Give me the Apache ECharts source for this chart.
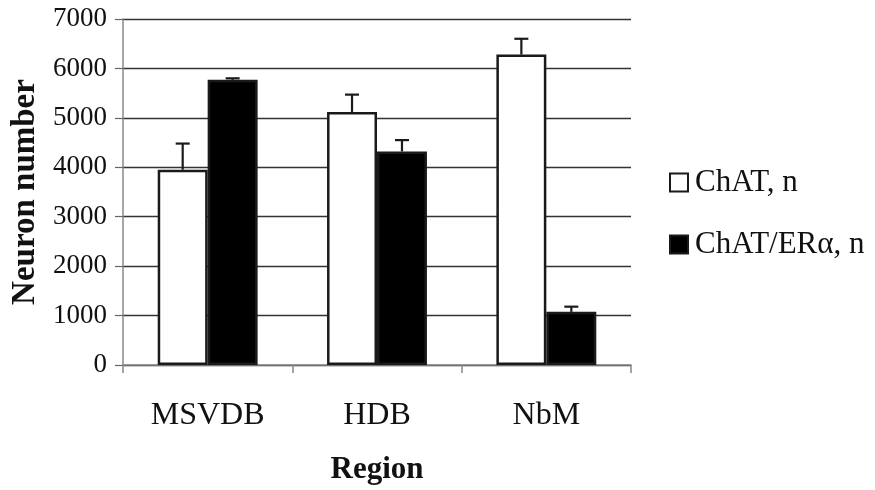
<!DOCTYPE html>
<html>
<head>
<meta charset="utf-8">
<script src="https://cdn.jsdelivr.net/npm/echarts@6/dist/echarts.min.js"></script>
<style>html,body{margin:0;padding:0;background:#fff}#c{width:875px;height:490px}</style>
</head>
<body>
<div id="c"></div>
<script>
const categories = ['MSVDB', 'HDB', 'NbM'];
const chatValues = [3950, 5120, 6280];
const chatErrTop = [4480, 5470, 6600];
const eraValues = [5770, 4320, 1075];
const eraErrTop = [5800, 4550, 1180];
const seriesNames = ['ChAT, n', 'ChAT/ER\u03b1, n'];
const yTicks = [0, 1000, 2000, 3000, 4000, 5000, 6000, 7000];

const FONT = 'Liberation Serif';
const CAT_GAP = 0.41;

function errSeries(values, tops, side) {
  return {
    type: 'custom',
    z: 10,
    silent: true,
    data: values.map((v, i) => [i, v, tops[i]]),
    renderItem: function (params, api) {
      const band = api.size([1, 0])[0];
      const barW = band * (1 - CAT_GAP) / 2;
      const off = side * barW / 2;
      const base = api.coord([api.value(0), api.value(1)]);
      const top = api.coord([api.value(0), api.value(2)]);
      const x = base[0] + off;
      const cap = 7;
      const st = { stroke: '#1a1a1a', lineWidth: 2.2 };
      return {
        type: 'group',
        children: [
          { type: 'line', shape: { x1: x, y1: base[1], x2: x, y2: top[1] }, style: st },
          { type: 'line', shape: { x1: x - cap, y1: top[1], x2: x + cap, y2: top[1] }, style: st }
        ]
      };
    }
  };
}

const chart = echarts.init(document.getElementById('c'), null, { renderer: 'canvas' });
chart.setOption({
  animation: false,
  backgroundColor: '#fff',
  textStyle: { fontFamily: FONT },
  grid: { left: 123, right: 244, top: 19, bottom: 122, containLabel: false },
  legend: {
    orient: 'vertical',
    left: 664,
    top: 162,
    itemWidth: 18,
    itemHeight: 18,
    itemGap: 31,
    icon: 'rect',
    textStyle: { fontFamily: FONT, fontSize: 31, color: '#111', padding: [0, 0, 0, 2] },
    data: seriesNames
  },
  xAxis: {
    type: 'category',
    data: categories,
    boundaryGap: true,
    name: 'Region',
    nameLocation: 'middle',
    nameGap: 89,
    nameTextStyle: { fontFamily: FONT, fontSize: 31, fontWeight: 'bold', color: '#111' },
    axisLine: { lineStyle: { color: '#888', width: 1.5 } },
    axisTick: { show: true, length: 8, alignWithLabel: false, lineStyle: { color: '#888', width: 1.5 } },
    axisLabel: { fontFamily: FONT, fontSize: 32, color: '#111', margin: 35 },
    splitLine: { show: false }
  },
  yAxis: {
    type: 'value',
    min: 0,
    max: 7000,
    interval: 1000,
    name: 'Neuron number',
    nameLocation: 'middle',
    nameGap: 79,
    nameRotate: 90,
    nameTextStyle: { fontFamily: FONT, fontSize: 33, fontWeight: 'bold', color: '#111' },
    axisLine: { show: true, lineStyle: { color: '#888', width: 1.5 } },
    axisTick: { show: true, length: 8, lineStyle: { color: '#666', width: 1.2 } },
    axisLabel: {
      fontFamily: FONT, fontSize: 27, color: '#111', margin: 16,
      formatter: v => (yTicks.indexOf(v) >= 0 ? String(v) : '')
    },
    splitLine: { show: true, lineStyle: { color: '#333', width: 1.3 } }
  },
  series: [
    {
      name: seriesNames[0],
      type: 'bar',
      data: chatValues,
      barGap: '0%',
      barCategoryGap: (CAT_GAP * 100) + '%',
      itemStyle: { color: '#fff', borderColor: '#1a1a1a', borderWidth: 2.5 },
      z: 3
    },
    {
      name: seriesNames[1],
      type: 'bar',
      data: eraValues,
      barGap: '0%',
      barCategoryGap: (CAT_GAP * 100) + '%',
      itemStyle: { color: '#000', borderColor: '#1a1a1a', borderWidth: 2.5 },
      z: 3
    },
    errSeries(chatValues, chatErrTop, -1),
    errSeries(eraValues, eraErrTop, 1)
  ]
});
</script>
</body>
</html>
